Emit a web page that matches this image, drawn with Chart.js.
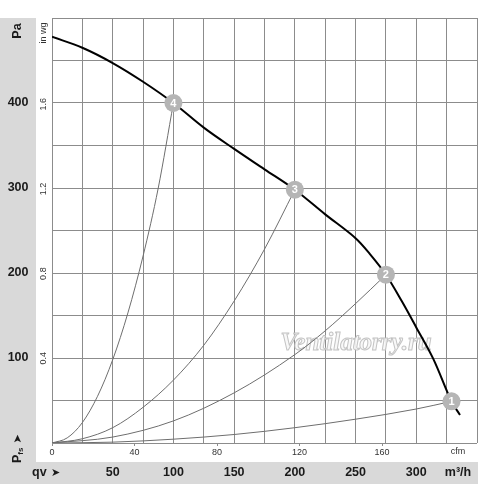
<!DOCTYPE html>
<html>
<head>
<meta charset="utf-8">
<script src="https://cdn.jsdelivr.net/npm/chart.js@4.4.0/dist/chart.umd.min.js"></script>
<style>
  html, body { margin: 0; padding: 0; background: #fff; }
  #wrap { width: 500px; height: 484px; }
</style>
</head>
<body>
<div id="wrap"><canvas id="chart"></canvas></div>
<script>
// fan curve, flow in m3/h, pressure in Pa
const fanFlow = [0, 25, 50, 75, 100, 125, 150, 175, 200, 225, 250, 262, 275, 288, 300, 314, 329, 336];
const fanPress = [478, 465, 447, 425, 400, 371, 346, 322, 298, 269, 241, 222, 198, 167, 136, 99, 49, 33];

// system curves through the operating points
const sys1Flow = [0, 50, 100, 150, 200, 250, 300, 329];
const sys1Press = [0, 1, 4.5, 10, 18, 28, 40, 49];
const sys2Flow = [0, 50, 100, 150, 200, 225, 250, 275];
const sys2Press = [0, 7, 26, 59, 104, 132, 164, 198];
const sys3Flow = [0, 25, 50, 75, 100, 125, 150, 175, 200];
const sys3Press = [0, 5, 18, 42, 74, 115, 167, 228, 298];
const sys4Flow = [0, 12.5, 25, 37.5, 50, 62.5, 75, 87.5, 100];
const sys4Press = [0, 6, 24, 55, 98, 153, 220, 300, 400];

// operating points 1..4
const opNames = ['1', '2', '3', '4'];
const opFlow = [329, 275, 200, 100];
const opPress = [49, 198, 298, 400];

// tick labels
const flowTicks = [50, 100, 150, 200, 250, 300];
const cfmTicks = [0, 40, 80, 120, 160];
const paTicks = [100, 200, 300, 400];
const inwgTicks = [0.4, 0.8, 1.2, 1.6];

const toPts = (xs, ys) => xs.map((x, i) => ({ x: x, y: ys[i] }));

Chart.defaults.font.family = '"Liberation Sans", Arial, sans-serif';
Chart.defaults.color = '#222';

const gridColor = '#8c8c8c';
const small = '9px "Liberation Sans", Arial, sans-serif';
const bold = 'bold 12.5px "Liberation Sans", Arial, sans-serif';

function lineSet(xs, ys, color, width) {
  return {
    data: toPts(xs, ys),
    xAxisID: 'm3h',
    yAxisID: 'pa',
    showLine: true,
    borderColor: color,
    borderWidth: width,
    pointRadius: 0,
    pointHoverRadius: 0,
    cubicInterpolationMode: 'monotone'
  };
}

const decoPlugin = {
  id: 'deco',
  beforeDraw(chart) {
    const ctx = chart.ctx;
    const a = chart.chartArea;
    ctx.save();
    ctx.fillStyle = '#d9d9d9';
    ctx.fillRect(0, a.top, chart.scales.pa.right, chart.height - a.top);
    ctx.fillRect(0, chart.scales.m3h.top, a.right + 1, chart.height - chart.scales.m3h.top);
    ctx.restore();
  },
  beforeDatasetsDraw(chart) {
    const ctx = chart.ctx;
    ctx.save();
    ctx.font = 'italic bold 25px "Liberation Serif", serif';
    ctx.textAlign = 'center';
    ctx.textBaseline = 'alphabetic';
    ctx.fillStyle = 'rgba(247,247,247,0.9)';
    ctx.strokeStyle = 'rgba(190,190,190,0.9)';
    ctx.lineWidth = 1;
    ctx.fillText('Ventilatorry.ru', 356, 350);
    ctx.strokeText('Ventilatorry.ru', 356, 350);
    ctx.restore();
  },
  afterDatasetsDraw(chart) {
    const ctx = chart.ctx;
    const meta = chart.getDatasetMeta(0);
    ctx.save();
    ctx.font = 'bold 11px "Liberation Sans", Arial, sans-serif';
    ctx.fillStyle = '#fff';
    ctx.textAlign = 'center';
    ctx.textBaseline = 'middle';
    meta.data.forEach((pt, i) => {
      ctx.fillText(opNames[i], pt.x, pt.y + 0.5);
    });
    ctx.restore();
  },
  afterDraw(chart) {
    const ctx = chart.ctx;
    const a = chart.chartArea;
    const pa = chart.scales.pa;
    const inwg = chart.scales.inwg;
    const m3h = chart.scales.m3h;
    const cfm = chart.scales.cfm;
    ctx.save();
    ctx.fillStyle = '#1a1a1a';
    ctx.textBaseline = 'middle';

    // rotated in wg ticks
    const xw = inwg.right - 8.5;
    ctx.font = small;
    ctx.textAlign = 'center';
    inwg.ticks.forEach(t => {
      ctx.save();
      ctx.translate(xw, inwg.getPixelForValue(t.value));
      ctx.rotate(-Math.PI / 2);
      ctx.fillStyle = '#333';
      ctx.fillText(t.value.toFixed(1), 0, 0);
      ctx.restore();
    });

    ctx.save();
    ctx.translate(xw, a.top + 15);
    ctx.rotate(-Math.PI / 2);
    ctx.fillStyle = '#333';
    ctx.fillText('in wg', 0, 0);
    ctx.restore();

    // rotated titles on the left
    ctx.save();
    ctx.translate((pa.left + pa.right) / 2, a.top + 13);
    ctx.rotate(-Math.PI / 2);
    ctx.font = bold;
    ctx.fillText('Pa', 0, 0);
    ctx.restore();

    ctx.save();
    ctx.translate((pa.left + pa.right) / 2, m3h.top + 1);
    ctx.rotate(-Math.PI / 2);
    ctx.textAlign = 'left';
    ctx.font = bold;
    ctx.fillText('P', 0, 0);
    let w = ctx.measureText('P').width;
    ctx.font = 'bold 8px "Liberation Sans", Arial, sans-serif';
    ctx.fillText('fs', w, 3);
    w += ctx.measureText('fs').width + 4;
    ctx.font = 'bold 11px "DejaVu Sans", sans-serif';
    ctx.fillText('\u27A4', w, 0);
    ctx.restore();

    // bottom titles
    const yBand = (m3h.top + m3h.bottom) / 2;
    ctx.textAlign = 'left';
    ctx.font = bold;
    ctx.fillText('qv', 32, yBand);
    ctx.font = 'bold 11px "DejaVu Sans", sans-serif';
    ctx.fillText('\u27A4', 51, yBand);

    ctx.textAlign = 'center';
    ctx.font = bold;
    ctx.fillText('m\u00B3/h', 458, yBand);
    ctx.font = small;
    ctx.fillStyle = '#333';
    ctx.fillText('cfm', 458, cfm.top + 9);
    ctx.restore();
  }
};

const ctx = document.getElementById('chart').getContext('2d');
const fanSet = lineSet(fanFlow, fanPress, '#000', 2);
fanSet.cubicInterpolationMode = 'default';
fanSet.tension = 0.35;

const myChart = new Chart(ctx, {
  type: 'scatter',
  data: {
    datasets: [
      {
        data: toPts(opFlow, opPress),
        xAxisID: 'm3h',
        yAxisID: 'pa',
        pointRadius: 9,
        pointHoverRadius: 9,
        backgroundColor: '#b5b5b5',
        borderWidth: 0,
        showLine: false
      },
      fanSet,
      lineSet(sys1Flow, sys1Press, '#6e6e6e', 1),
      lineSet(sys2Flow, sys2Press, '#6e6e6e', 1),
      lineSet(sys3Flow, sys3Press, '#6e6e6e', 1),
      lineSet(sys4Flow, sys4Press, '#6e6e6e', 1)
    ]
  },
  options: {
    responsive: true,
    maintainAspectRatio: false,
    animation: false,
    layout: { padding: { top: 18, right: 23, left: 0, bottom: 0 } },
    plugins: { legend: { display: false }, tooltip: { enabled: false } },
    scales: {
      inwg: {
        type: 'linear',
        position: 'left',
        weight: 0,
        min: 0,
        max: 500 / 249.089,
        afterBuildTicks: s => { s.ticks = inwgTicks.map(v => ({ value: v })); },
        afterFit: s => { s.width = 16; },
        ticks: { display: false },
        grid: { display: false },
        border: { display: true, color: gridColor }
      },
      pa: {
        type: 'linear',
        position: 'left',
        weight: 1,
        min: 0,
        max: 500,
        afterFit: s => { s.width = 36; },
        ticks: {
          stepSize: 50,
          autoSkip: false,
          crossAlign: 'center',
          padding: 7.5,
          color: '#1a1a1a',
          font: { size: 12.5, weight: 'bold' },
          callback: v => paTicks.includes(v) ? String(v) : ''
        },
        grid: { color: gridColor, drawTicks: false },
        border: { display: false }
      },
      cfm: {
        type: 'linear',
        position: 'bottom',
        weight: 0,
        min: 0,
        max: 350 / 1.699,
        afterBuildTicks: s => { s.ticks = cfmTicks.map(v => ({ value: v })); },
        afterFit: s => { s.height = 19; },
        ticks: { maxRotation: 0, padding: 1, color: '#333', font: { size: 9 } },
        grid: { drawOnChartArea: false, tickLength: 3, color: gridColor },
        border: { display: false }
      },
      m3h: {
        type: 'linear',
        position: 'bottom',
        weight: 1,
        min: 0,
        max: 350,
        afterFit: s => { s.height = 22; },
        ticks: {
          stepSize: 25,
          autoSkip: false,
          maxRotation: 0,
          padding: 3,
          color: '#1a1a1a',
          font: { size: 12.5, weight: 'bold' },
          callback: v => flowTicks.includes(v) ? String(v) : ''
        },
        grid: { color: gridColor, drawTicks: false },
        border: { display: false }
      }
    }
  },
  plugins: [decoPlugin]
});
</script>
</body>
</html>
